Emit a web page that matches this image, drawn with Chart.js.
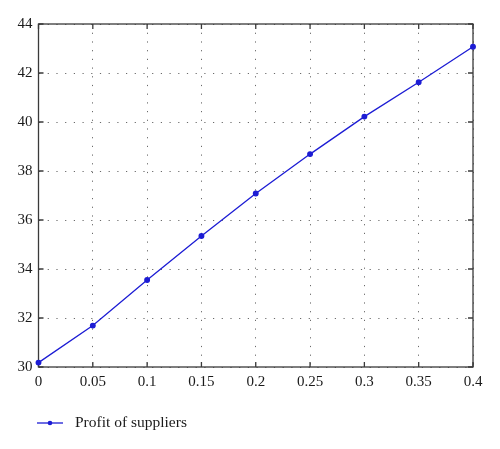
<!DOCTYPE html>
<html>
<head>
<meta charset="utf-8">
<script src="https://cdn.jsdelivr.net/npm/chart.js@4.4.1/dist/chart.umd.min.js"></script>
<style>
  html, body { margin: 0; padding: 0; background: #fff; }
  #wrap { width: 500px; height: 449px; }
</style>
</head>
<body>
<div id="wrap"><canvas id="profitChart"></canvas></div>
<script>
const xValues = [0, 0.05, 0.1, 0.15, 0.2, 0.25, 0.3, 0.35, 0.4];
const profitOfSuppliers = [30.18, 31.69, 33.55, 35.35, 37.08, 38.69, 40.22, 41.62, 43.07];
const seriesLabel = "Profit of suppliers";

const LINE_COLOR = "#1c1cd4";
const FONT = "'Liberation Serif', 'DejaVu Serif', serif";

// MATLAB style frame: solid box + inward ticks on all four sides, plus legend under the plot
const frameAndLegend = {
  id: "frameAndLegend",
  beforeDatasetsDraw(chart) {
    const { ctx, chartArea: a, scales } = chart;
    ctx.save();
    ctx.strokeStyle = "#3a3a3a";
    ctx.lineWidth = 1.3;
    ctx.strokeRect(a.left, a.top, a.right - a.left, a.bottom - a.top);

    const len = 5;
    ctx.beginPath();
    scales.x.ticks.forEach((t) => {
      const px = scales.x.getPixelForValue(t.value);
      ctx.moveTo(px, a.bottom); ctx.lineTo(px, a.bottom - len);
      ctx.moveTo(px, a.top); ctx.lineTo(px, a.top + len);
    });
    scales.y.ticks.forEach((t) => {
      const py = scales.y.getPixelForValue(t.value);
      ctx.moveTo(a.left, py); ctx.lineTo(a.left + len, py);
      ctx.moveTo(a.right, py); ctx.lineTo(a.right - len, py);
    });
    ctx.stroke();
    ctx.restore();
  },
  afterDraw(chart) {
    const { ctx } = chart;
    ctx.save();
    const ly = 423;
    ctx.strokeStyle = LINE_COLOR;
    ctx.lineWidth = 1.3;
    ctx.beginPath();
    ctx.moveTo(37, ly); ctx.lineTo(63, ly);
    ctx.stroke();
    ctx.fillStyle = LINE_COLOR;
    ctx.beginPath();
    ctx.arc(50, ly, 2.3, 0, Math.PI * 2);
    ctx.fill();
    ctx.fillStyle = "#1a1a1a";
    ctx.font = "15.5px " + FONT;
    ctx.textBaseline = "middle";
    ctx.fillText(seriesLabel, 75, ly);
    ctx.restore();
  },
};

new Chart(document.getElementById("profitChart"), {
  type: "line",
  data: {
    datasets: [
      {
        label: seriesLabel,
        data: xValues.map((x, i) => ({ x: x, y: profitOfSuppliers[i] })),
        borderColor: LINE_COLOR,
        backgroundColor: LINE_COLOR,
        borderWidth: 1.3,
        pointRadius: 2.3,
        pointHoverRadius: 2.3,
        tension: 0,
        fill: false,
        clip: false,
      },
    ],
  },
  options: {
    responsive: true,
    maintainAspectRatio: false,
    animation: false,
    layout: { padding: { left: 0, right: 27, top: 24, bottom: 52 } },
    plugins: { legend: { display: false }, tooltip: { enabled: false } },
    scales: {
      x: {
        type: "linear",
        min: 0,
        max: 0.4,
        afterFit: (s) => { s.height = 30; },
        ticks: {
          stepSize: 0.05,
          padding: 6,
          color: "#1a1a1a",
          font: { family: FONT, size: 15 },
          callback: (v) => String(+v.toFixed(2)),
        },
        grid: { color: "#6a6a6a", lineWidth: 1, drawTicks: false, borderDash: [1.2, 7.5] },
        border: { display: false, dash: [1.2, 7.5] },
      },
      y: {
        min: 30,
        max: 44,
        afterFit: (s) => { s.width = 38.5; },
        ticks: {
          stepSize: 2,
          padding: 6,
          color: "#1a1a1a",
          font: { family: FONT, size: 15 },
        },
        grid: { color: "#6a6a6a", lineWidth: 1, drawTicks: false, borderDash: [1.2, 7.5] },
        border: { display: false, dash: [1.2, 7.5] },
      },
    },
  },
  plugins: [frameAndLegend],
});
</script>
</body>
</html>
